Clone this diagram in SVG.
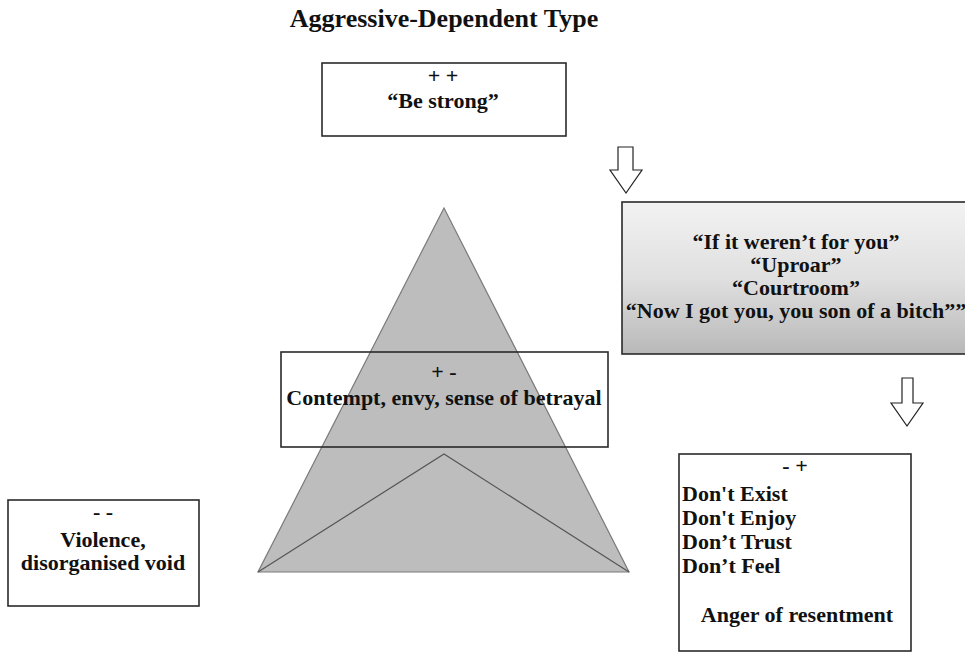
<svg xmlns="http://www.w3.org/2000/svg" width="965" height="652" viewBox="0 0 965 652">
<style>
  text { font-family: "Liberation Serif", "Times New Roman", serif; font-weight: bold; fill: #111; font-size: 22px; }
  .title { font-size: 26px; }
  .c { text-anchor: middle; }
  .box { fill: #fff; stroke: #2a2a2a; stroke-width: 1.6; }
  .open { fill: none; stroke: #2a2a2a; stroke-width: 1.6; }
  .arrow { fill: #fff; stroke: #222; stroke-width: 1.2; stroke-linejoin: miter; }
</style>
<defs>
  <linearGradient id="g" x1="0" y1="0" x2="0" y2="1">
    <stop offset="0" stop-color="#f2f2f2"/>
    <stop offset="0.5" stop-color="#e0e0e0"/>
    <stop offset="1" stop-color="#b8b8b8"/>
  </linearGradient>
</defs>
<rect width="965" height="652" fill="#fff"/>
<text class="title c" x="444" y="27">Aggressive-Dependent Type</text>

<g id="pyramid">
  <polygon points="444,208 258,572 629,572" fill="#bdbdbd" stroke="#7a7a7a" stroke-width="1.2"/>
  <polyline points="258,572 444,454 629,572" fill="none" stroke="#555" stroke-width="1.2"/>
</g>

<g id="node-top">
  <rect class="box" x="322" y="63" width="244" height="73"/>
  <text class="c" x="443" y="83">+ +</text>
  <text class="c" x="443" y="108">“Be strong”</text>
</g>

<g id="node-middle">
  <rect class="open" x="281" y="352" width="327" height="95"/>
  <text class="c" x="444" y="379">+ -</text>
  <text class="c" x="444" y="405">Contempt, envy, sense of betrayal</text>
</g>

<g id="node-games">
  <rect x="622" y="202" width="345" height="152" fill="url(#g)" stroke="#2a2a2a" stroke-width="1.6"/>
  <text class="c" x="796" y="249">“If it weren’t for you”</text>
  <text class="c" x="796" y="272">“Uproar”</text>
  <text class="c" x="796" y="295">“Courtroom”</text>
  <text class="c" x="796" y="318">“Now I got you, you son of a bitch””</text>
</g>

<g id="node-left">
  <rect class="box" x="8" y="500" width="191" height="106"/>
  <text class="c" x="103" y="519">- -</text>
  <text class="c" x="103" y="547">Violence,</text>
  <text class="c" x="103" y="570">disorganised void</text>
</g>

<g id="node-right">
  <rect class="box" x="679" y="454" width="232" height="197"/>
  <text class="c" x="795" y="473">- +</text>
  <text x="682" y="501">Don't Exist</text>
  <text x="682" y="525">Don't Enjoy</text>
  <text x="682" y="549">Don’t Trust</text>
  <text x="682" y="573">Don’t Feel</text>
  <text class="c" x="797" y="622">Anger of resentment</text>
</g>

<g id="connectors">
  <polygon class="arrow" points="618,147 633,147 633,170 642,170 626,193 610,170 618,170"/>
  <polygon class="arrow" points="902,378 913,378 913,403 923,403 907,426 891,403 902,403"/>
</g>
</svg>
